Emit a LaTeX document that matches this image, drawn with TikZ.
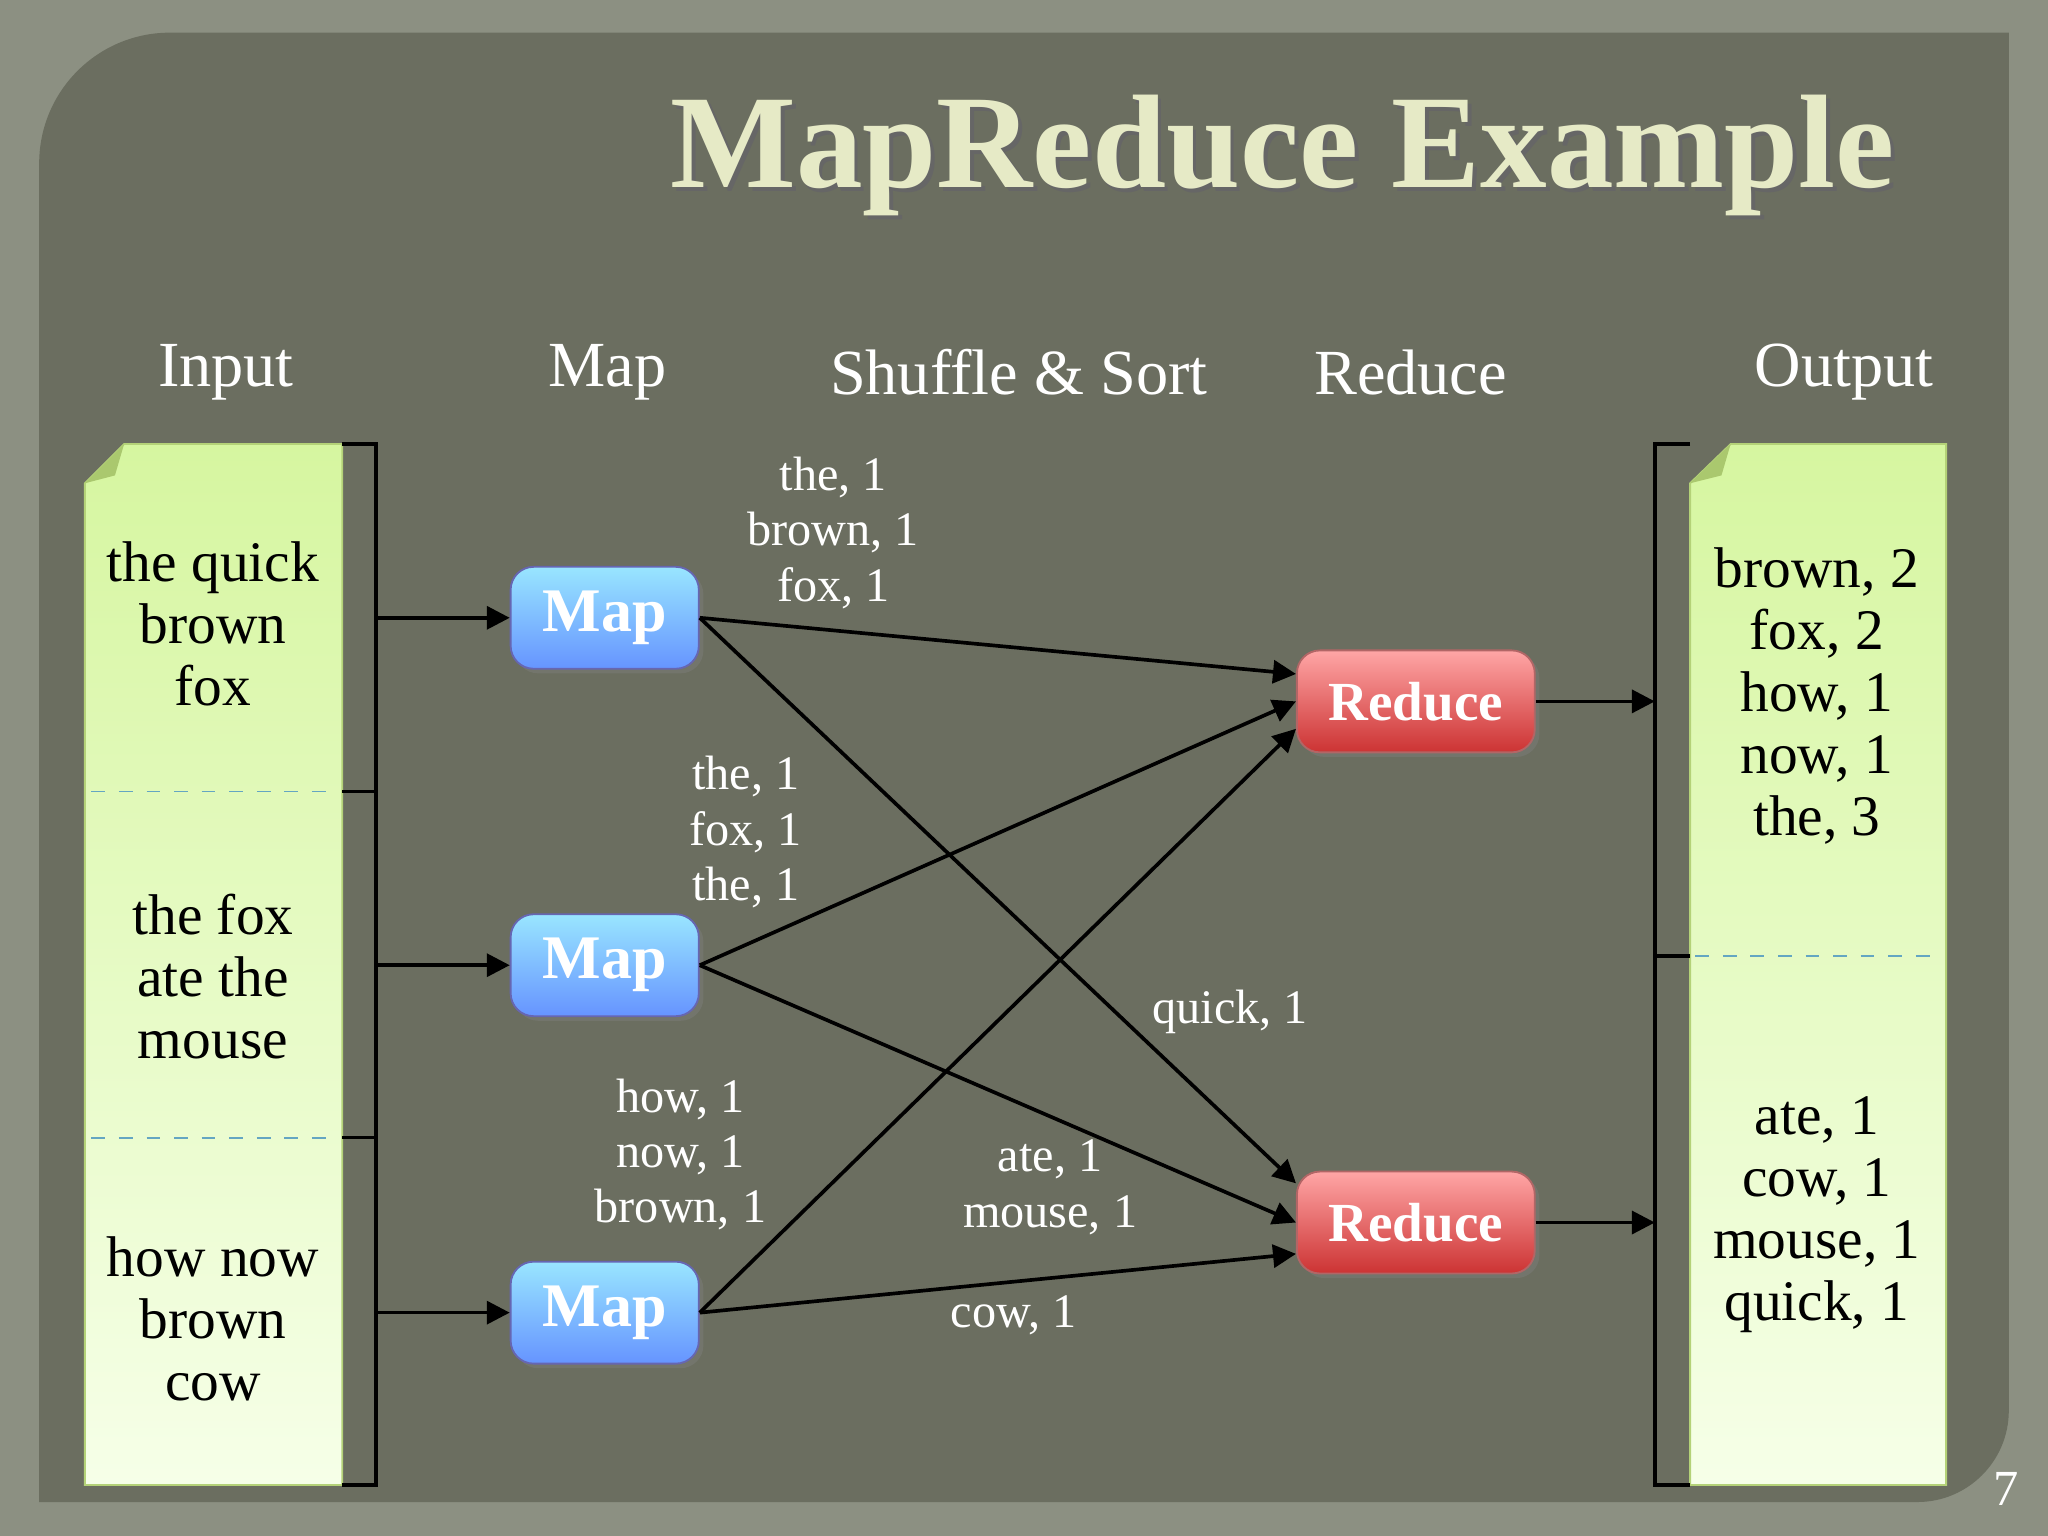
\documentclass[tikz,border=0pt]{standalone}
\usepackage{fontspec}
\setmainfont{Liberation Serif}
\usetikzlibrary{arrows.meta,shadows}
\definecolor{frame}{HTML}{8C9082}
\definecolor{panel}{HTML}{6B6E60}
\definecolor{title}{HTML}{E6EAC6}
\definecolor{ptop}{RGB}{214,246,160}
\definecolor{pbot}{RGB}{246,255,232}
\definecolor{pdraw}{RGB}{180,210,120}
\definecolor{pfold}{RGB}{170,200,110}
\begin{document}
\begin{tikzpicture}[x=0.01cm,y=-0.01cm,
  box/.style={rounded corners=5pt,minimum height=0.78cm,text=white,drop shadow={opacity=0.4,shadow xshift=1pt,shadow yshift=-1pt}},
  mapb/.style={box,minimum width=1.44cm,font=\fontsize{13.5}{13.5}\selectfont\bfseries,draw=blue!50!black!60,top color=blue!25!cyan!40,bottom color=blue!70!cyan!60},
  redb/.style={box,minimum width=1.82cm,font=\fontsize{12}{12}\selectfont\bfseries,draw=red!50!black!60,top color=red!35!white,bottom color=red!75!black!80},
  lbl/.style={text=white,font=\fontsize{10.5}{12}\selectfont,align=center},
  hdr/.style={text=white,font=\fontsize{14}{14}\selectfont},
  body/.style={text=black,font=\fontsize{12.5}{13.5}\selectfont,align=center},
  arr/.style={-{Triangle[length=5pt,width=5pt]},thick,black},
  brk/.style={thick,black}]
\fill[frame] (0,0) rectangle (1568,1176);
\fill[panel] (30,1150) [rounded corners=1cm] -- (30,25) [sharp corners] -- (1538,25) [rounded corners=0.7cm] -- (1538,1150) [sharp corners] -- cycle;
\node[text=black!60,font=\fontsize{29}{29}\selectfont\bfseries] at (985,122) {MapReduce Example};
\node[text=title,font=\fontsize{29}{29}\selectfont\bfseries] (t) at (982,119) {MapReduce Example};
\node[text=white,font=\fontsize{11}{11}\selectfont] (pg) at (1536,1140) {7};
% headers
\node[hdr] (h1) at (173,285) {Input};
\node[hdr] (h2) at (465,285) {Map};
\node[hdr] (h3) at (780,285) {Shuffle \& Sort};
\node[hdr] (h4) at (1080,285) {Reduce};
\node[hdr] (h5) at (1412,285) {Output};
% papers
\shade[top color=ptop,bottom color=pbot,draw=pdraw] (95,340) -- (262,340) -- (262,1137) -- (65,1137) -- (65,370) -- cycle;
\fill[pfold] (65,370) -- (95,340) -- (88,364) -- cycle;
\shade[top color=ptop,bottom color=pbot,draw=pdraw] (1325,340) -- (1490,340) -- (1490,1137) -- (1294,1137) -- (1294,370) -- cycle;
\fill[pfold] (1294,370) -- (1325,340) -- (1318,364) -- cycle;
\draw[dashed,cyan!50!gray] (70,606) -- (258,606) (70,871) -- (258,871);
\draw[dashed,cyan!50!gray] (1298,732) -- (1486,732);
\node[body] (i1) at (163,478) {the quick\\brown\\fox};
\node[body] (i2) at (163,748) {the fox\\ate the\\mouse};
\node[body] (i3) at (163,1010) {how now\\brown\\cow};
\node[body] (o1) at (1391,533) {brown, 2\\fox, 2\\how, 1\\now, 1\\the, 3};
\node[body] (o2) at (1391,930) {ate, 1\\cow, 1\\mouse, 1\\quick, 1};
% brackets
\draw[brk] (262,340) -- (288,340) -- (288,606) -- (262,606) (288,606) -- (288,871) -- (262,871) (288,871) -- (288,1137) -- (262,1137);
\draw[brk] (1294,340) -- (1267,340) -- (1267,732) -- (1294,732) (1267,732) -- (1267,1137) -- (1294,1137);
\coordinate (b1) at (288,473); \coordinate (b2) at (288,739); \coordinate (b3) at (288,1005);
\coordinate (c1) at (1267,537); \coordinate (c2) at (1267,936);
% boxes
\node[mapb] (m1) at (463,473) {Map};
\node[mapb] (m2) at (463,739) {Map};
\node[mapb] (m3) at (463,1005) {Map};
\node[redb] (r1) at (1084,537) {Reduce};
\node[redb] (r2) at (1084,936) {Reduce};
% arrows
\draw[arr] (b1) -- (m1); \draw[arr] (b2) -- (m2); \draw[arr] (b3) -- (m3);
\draw[arr] (m1.east) -- (r1.west|-0,516);
\draw[arr] (m1.east) -- (r2.west|-0,906);
\draw[arr] (m2.east) -- (r1.west);
\draw[arr] (m2.east) -- (r2.west|-0,936);
\draw[arr] (m3.east) -- (r1.west|-0,558);
\draw[arr] (m3.east) -- (r2.west|-0,960);
\draw[arr] (r1) -- (c1); \draw[arr] (r2) -- (c2);
% labels
\node[lbl] (l1) at (638,408) {the, 1\\brown, 1\\fox, 1};
\node[lbl] (l2) at (571,637) {the, 1\\fox, 1\\the, 1};
\node[lbl] (l3) at (521,884) {how, 1\\now, 1\\brown, 1};
\node[lbl] (l4) at (942,775) {quick, 1};
\node[lbl] (l5) at (804,909) {ate, 1\\mouse, 1};
\node[lbl] (l6) at (776,1007) {cow, 1};
\end{tikzpicture}
\end{document}
